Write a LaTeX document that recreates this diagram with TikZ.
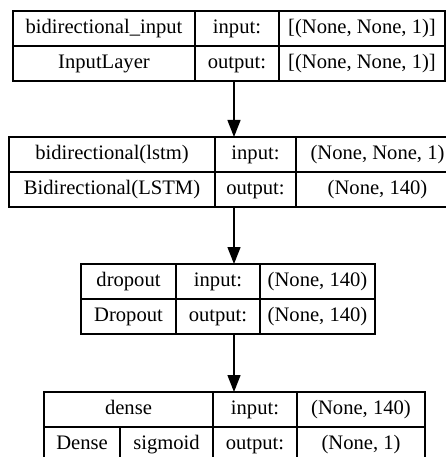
\documentclass[tikz,border=0pt]{standalone}
\usepackage{fontspec}
\setmainfont{Liberation Serif}
\usetikzlibrary{arrows.meta}

\begin{document}
\begin{tikzpicture}[x=1pt, y=-1pt, line width=1.4pt,
    cell/.style={draw, anchor=north west, minimum height=35pt, inner sep=0pt, outer sep=0pt,
        text height=14pt, text depth=4.5pt, font=\fontsize{20.6}{24}\selectfont},
    edge/.style={-{Triangle[length=17pt, width=13pt]}}]
    \clip (0,0) rectangle (446,457);
    \coordinate (axis) at (234,0);
    % bidirectional_input
    \node[cell, minimum width=182pt] (inname) at (13,11) {bidirectional\_input};
    \node[cell, minimum width=84pt] (inin) at (195,11) {input:};
    \node[cell, minimum width=166pt] (ininshape) at (279,11) {[(None, None, 1)]};
    \node[cell, minimum width=182pt] (inclass) at (13,46) {InputLayer};
    \node[cell, minimum width=84pt] (inout) at (195,46) {output:};
    \node[cell, minimum width=166pt] (inoutshape) at (279,46) {[(None, None, 1)]};
    % bidirectional(lstm)
    \node[cell, minimum width=206pt] (lstmname) at (9,137) {bidirectional(lstm)};
    \node[cell, minimum width=81pt] (lstmin) at (215,137) {input:};
    \node[cell, minimum width=163pt] (lstminshape) at (296,137) {(None, None, 1)};
    \node[cell, minimum width=206pt] (lstmclass) at (9,172) {Bidirectional(LSTM)};
    \node[cell, minimum width=81pt] (lstmout) at (215,172) {output:};
    \node[cell, minimum width=163pt] (lstmoutshape) at (296,172) {(None, 140)};
    % dropout
    \node[cell, minimum width=95pt] (dropname) at (81,264) {dropout};
    \node[cell, minimum width=84pt] (dropin) at (176,264) {input:};
    \node[cell, minimum width=115pt] (dropinshape) at (260,264) {(None, 140)};
    \node[cell, minimum width=95pt] (dropclass) at (81,299) {Dropout};
    \node[cell, minimum width=84pt] (dropout) at (176,299) {output:};
    \node[cell, minimum width=115pt] (dropoutshape) at (260,299) {(None, 140)};
    % dense
    \node[cell, minimum width=169pt] (densename) at (44,392) {dense};
    \node[cell, minimum width=84pt] (densein) at (213,392) {input:};
    \node[cell, minimum width=128pt] (denseinshape) at (297,392) {(None, 140)};
    \node[cell, minimum width=76pt] (denseclass) at (44,427) {Dense};
    \node[cell, minimum width=93pt] (denseact) at (120,427) {sigmoid};
    \node[cell, minimum width=84pt] (denseout) at (213,427) {output:};
    \node[cell, minimum width=128pt] (denseoutshape) at (297,427) {(None, 1)};
    % edges
    \draw[edge] (inout.south -| axis) -- (lstmin.north -| axis);
    \draw[edge] (lstmout.south -| axis) -- (dropin.north -| axis);
    \draw[edge] (dropout.south -| axis) -- (densein.north -| axis);
\end{tikzpicture}
\end{document}
